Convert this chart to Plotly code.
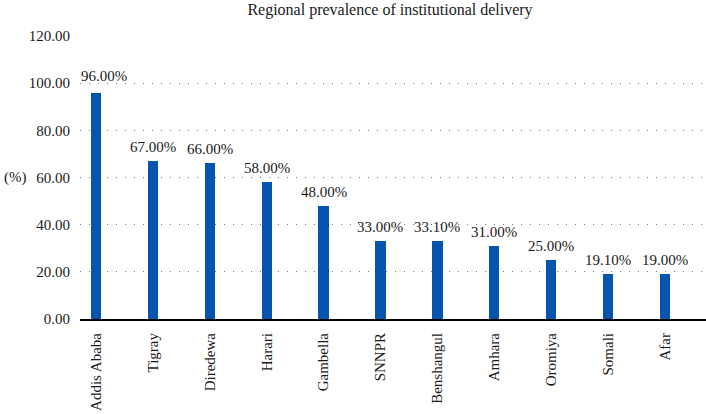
import plotly.graph_objects as go

regions = ["Addis Ababa", "Tigray", "Diredewa", "Harari", "Gambella", "SNNPR",
           "Benshangul", "Amhara", "Oromiya", "Somali", "Afar"]
prevalence = [96.0, 67.0, 66.0, 58.0, 48.0, 33.0, 33.1, 31.0, 25.0, 19.1, 19.0]
ytick_vals = [0, 20, 40, 60, 80, 100, 120]
ytick_text = ["0.00", "20.00", "40.00", "60.00", "80.00", "100.00", "120.00"]

FONT = "Liberation Serif"
FS = 15
TXT = "#1a1a1a"

W, H = 706, 414
ML, MR, MT, MB = 80, 0, 36, 95

xs = list(range(len(regions)))

fig = go.Figure()
fig.add_trace(go.Bar(
    x=xs,
    y=prevalence,
    width=0.18,
    marker=dict(color="#0555b0", line=dict(width=0)),
    hoverinfo="x+y",
))

# value labels above bars
for i, v in zip(xs, prevalence):
    fig.add_annotation(
        x=i, y=v, xref="x", yref="y",
        text=f"{v:.2f}%",
        showarrow=False, xanchor="center", yanchor="bottom",
        yshift=7 if i == 0 else 4, xshift=8 if i == 0 else 0,
        font=dict(family=FONT, size=FS, color=TXT),
    )

fig.update_layout(
    width=W, height=H,
    margin=dict(l=ML, r=MR, t=MT, b=MB, autoexpand=False),
    plot_bgcolor="white", paper_bgcolor="white",
    font=dict(family=FONT, size=FS, color=TXT),
    showlegend=False,
    bargap=0,
    title=dict(text="Regional prevalence of institutional delivery",
               x=390 / W, xanchor="center",
               y=1 - 9 / H, yanchor="middle", yref="container",
               font=dict(family=FONT, size=16, color=TXT)),
    xaxis=dict(
        range=[-0.28, 10.72],
        tickmode="array",
        tickvals=xs,
        ticktext=regions,
        tickangle=-90,
        tickfont=dict(family=FONT, size=FS, color=TXT),
        showgrid=False,
        zeroline=False,
        showline=True, linecolor="black", linewidth=2,
        ticks="outside", ticklen=6, tickcolor="rgba(0,0,0,0)",
        automargin=False,
    ),
    yaxis=dict(
        range=[0, 120],
        tickmode="array",
        tickvals=ytick_vals,
        ticktext=ytick_text,
        tickfont=dict(family=FONT, size=FS, color=TXT),
        showgrid=True, gridcolor="#7a7a7a", gridwidth=1, griddash="1px,8px",
        zeroline=False,
        showline=False,
        ticks="outside", ticklen=6, tickcolor="rgba(0,0,0,0)",
        automargin=False,
    ),
)

fig.add_annotation(
    text="(%)", xref="paper", yref="y",
    x=-(ML - 2) / (W - ML - MR), y=60,
    xanchor="left", yanchor="middle", showarrow=False,
    font=dict(family=FONT, size=FS, color=TXT),
)

fig.write_html("out.html", config={"displayModeBar": False},
               post_script="document.body.style.margin='0';")
